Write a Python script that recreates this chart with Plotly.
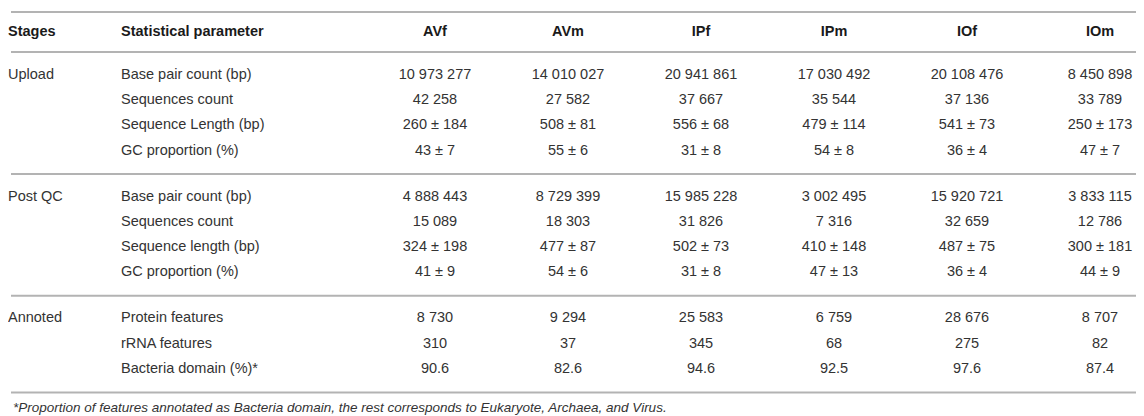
import plotly.graph_objects as go

# Valori della tabella
samples = ["AVf", "AVm", "IPf", "IPm", "IOf", "IOm"]
stages = ["Upload", "Post QC", "Annoted"]

upload_params = ["Base pair count (bp)", "Sequences count", "Sequence Length (bp)", "GC proportion (%)"]
postqc_params = ["Base pair count (bp)", "Sequences count", "Sequence length (bp)", "GC proportion (%)"]
annot_params = ["Protein features", "rRNA features", "Bacteria domain (%)*"]

base_pairs_upload = [10973277, 14010027, 20941861, 17030492, 20108476, 8450898]
seq_count_upload = [42258, 27582, 37667, 35544, 37136, 33789]
seq_len_upload_mean = [260, 508, 556, 479, 541, 250]
seq_len_upload_sd = [184, 81, 68, 114, 73, 173]
gc_upload_mean = [43, 55, 31, 54, 36, 47]
gc_upload_sd = [7, 6, 8, 8, 4, 7]

base_pairs_qc = [4888443, 8729399, 15985228, 3002495, 15920721, 3833115]
seq_count_qc = [15089, 18303, 31826, 7316, 32659, 12786]
seq_len_qc_mean = [324, 477, 502, 410, 487, 300]
seq_len_qc_sd = [198, 87, 73, 148, 75, 181]
gc_qc_mean = [41, 54, 31, 47, 36, 44]
gc_qc_sd = [9, 6, 8, 13, 4, 9]

protein_features = [8730, 9294, 25583, 6759, 28676, 8707]
rrna_features = [310, 37, 345, 68, 275, 82]
bacteria_pct = [90.6, 82.6, 94.6, 92.5, 97.6, 87.4]

footnote = "*Proportion of features annotated as Bacteria domain, the rest corresponds to Eukaryote, Archaea, and Virus."


def fmt_int(v):
    return f"{v:,}".replace(",", " ")


def fmt_pm(means, sds):
    return [f"{m} ± {s}" for m, s in zip(means, sds)]


groups = [
    (stages[0], upload_params, [
        [fmt_int(v) for v in base_pairs_upload],
        [fmt_int(v) for v in seq_count_upload],
        fmt_pm(seq_len_upload_mean, seq_len_upload_sd),
        fmt_pm(gc_upload_mean, gc_upload_sd),
    ]),
    (stages[1], postqc_params, [
        [fmt_int(v) for v in base_pairs_qc],
        [fmt_int(v) for v in seq_count_qc],
        fmt_pm(seq_len_qc_mean, seq_len_qc_sd),
        fmt_pm(gc_qc_mean, gc_qc_sd),
    ]),
    (stages[2], annot_params, [
        [fmt_int(v) for v in protein_features],
        [fmt_int(v) for v in rrna_features],
        [f"{v:.1f}" for v in bacteria_pct],
    ]),
]

# Geometria (pixel)
W, H = 1144, 416
x_stage = 0
x_param = 113
x_first_col = 427
col_step = 133
header_y = 24
header_line = 44
row_pitch = 25.3
group_pad = 23

stage_col, param_col, row_y = [], [], []
value_cols = [[] for _ in samples]
line_ys = [4, header_line]
y_line = header_line
for stage, params, rows in groups:
    for i, (p, vals) in enumerate(zip(params, rows)):
        row_y.append(y_line + group_pad + i * row_pitch)
        stage_col.append(stage if i == 0 else "")
        param_col.append(p)
        for j, v in enumerate(vals):
            value_cols[j].append(v)
    y_line = y_line + 2 * group_pad + (len(params) - 1) * row_pitch
    line_ys.append(y_line)

FONT = "Liberation Sans, Arial, sans-serif"
font_body = dict(family=FONT, size=14.5, color="#333333")
font_head = dict(family=FONT, size=14.5, color="#1a1a1a", weight="bold")

fig = go.Figure()

# intestazione
fig.add_trace(go.Scatter(
    x=[x_stage, x_param], y=[header_y, header_y], text=["Stages", "Statistical parameter"],
    mode="text", textposition="middle right", textfont=font_head, hoverinfo="skip", cliponaxis=False,
))
fig.add_trace(go.Scatter(
    x=[x_first_col + j * col_step for j in range(len(samples))], y=[header_y] * len(samples),
    text=samples, mode="text", textposition="middle center", textfont=font_head, hoverinfo="skip",
))

# colonne di testo
fig.add_trace(go.Scatter(
    x=[x_stage] * len(row_y), y=row_y, text=stage_col,
    mode="text", textposition="middle right", textfont=font_body, hoverinfo="skip", cliponaxis=False,
))
fig.add_trace(go.Scatter(
    x=[x_param] * len(row_y), y=row_y, text=param_col,
    mode="text", textposition="middle right", textfont=font_body, hoverinfo="skip",
))
for j, name in enumerate(samples):
    fig.add_trace(go.Scatter(
        x=[x_first_col + j * col_step] * len(row_y), y=row_y, text=value_cols[j],
        mode="text", textposition="middle center", textfont=font_body, hoverinfo="skip", name=name,
    ))

# linee orizzontali
for ly in line_ys:
    fig.add_shape(type="line", x0=3, x1=W, y0=ly, y1=ly, xref="x", yref="y",
                  line=dict(color="#b3b3b3", width=2))

fig.add_annotation(
    x=3, y=line_ys[-1] + 15, xref="x", yref="y", text=f"<i>{footnote}</i>",
    showarrow=False, xanchor="left", yanchor="middle",
    font=dict(family=FONT, size=13.5, color="#333333"),
)

fig.update_layout(
    width=W, height=H,
    margin=dict(l=0, r=0, t=0, b=0),
    showlegend=False,
    paper_bgcolor="white", plot_bgcolor="white",
    xaxis=dict(range=[0, W], visible=False, fixedrange=True),
    yaxis=dict(range=[H, 0], visible=False, fixedrange=True),
)

fig.write_html("out.html")
